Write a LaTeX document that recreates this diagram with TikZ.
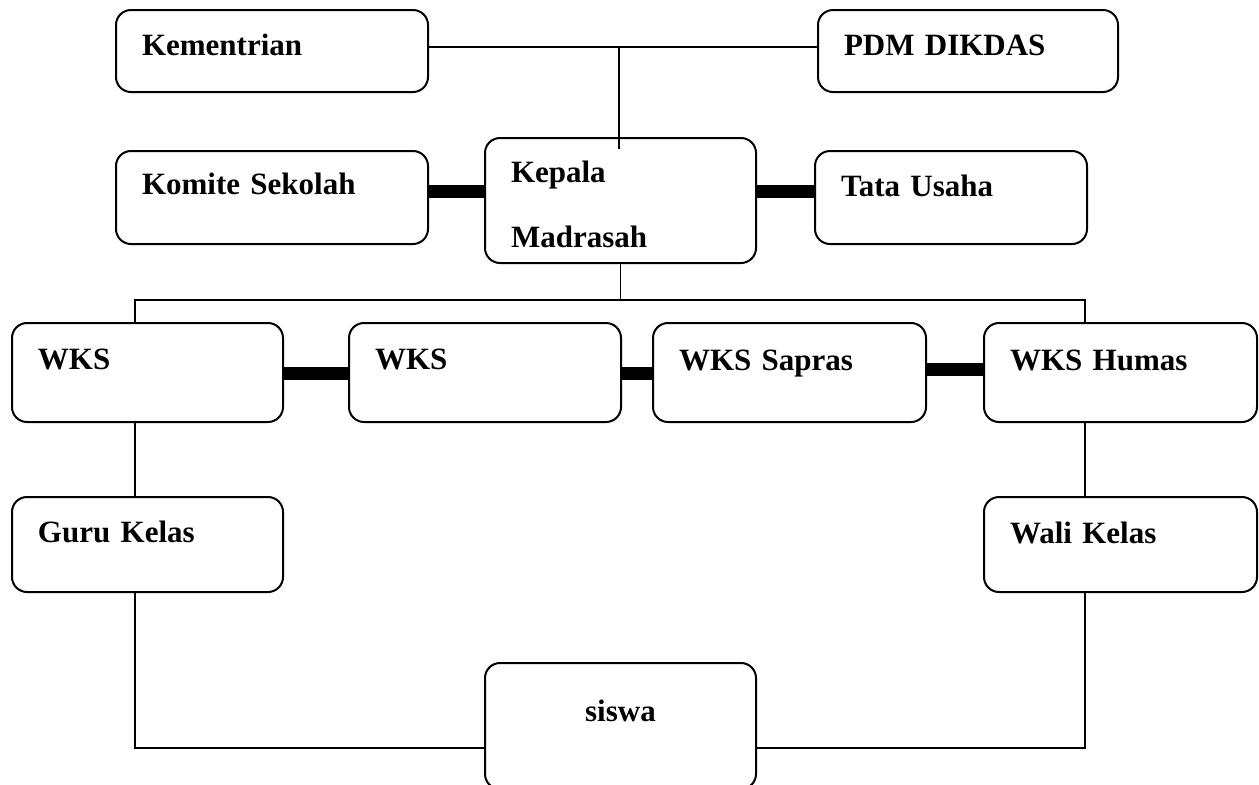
\documentclass[tikz,border=0pt]{standalone}
\usepackage{fontspec}
\setmainfont{Liberation Serif}

\begin{document}
\begin{tikzpicture}[x=0.5pt, y=-0.5pt,
  unit/.style={draw, rounded corners=7.5pt, line width=1pt, anchor=north west, inner xsep=13pt, inner ysep=0pt, align=left, font=\bfseries\fontsize{15.5}{18.6}\selectfont},
  link/.style={line width=0.8pt},
  bar/.style={line width=6.5pt}]
\useasboundingbox (0,0) rectangle (1259,784);

\node[unit, text width=130pt, text height=22.5pt, text depth=18.5pt] (kem) at (115,9) {Kementrian};
\node[unit, text width=124pt, text height=22.5pt, text depth=18.5pt] (pdm) at (817,9) {PDM DIKDAS};
\node[unit, text width=130pt, text height=21.5pt, text depth=25pt] (komite) at (115,150) {Komite Sekolah};
\node[unit, text width=109.5pt, text height=22pt, text depth=40.5pt] (kepala) at (484,137) {Kepala\\[14pt]Madrasah};
\node[unit, text width=110pt, text height=22.5pt, text depth=24pt] (tata) at (814,150) {Tata Usaha};

\node[unit, text width=109.5pt, text height=23pt, text depth=26.5pt] (wks) at (11,322) {WKS};
\node[unit, text width=110pt, text height=23pt, text depth=26.5pt] (wksdua) at (348,322) {WKS};
\node[unit, text width=110.5pt, text height=23.5pt, text depth=26pt] (sapras) at (652,322) {WKS Sapras};
\node[unit, text width=110.5pt, text height=23.5pt, text depth=26pt] (humas) at (983,322) {WKS Humas};

\node[unit, text width=109.5pt, text height=22.5pt, text depth=25pt] (guru) at (11,496) {Guru Kelas};
\node[unit, text width=110.5pt, text height=23pt, text depth=24.5pt] (wali) at (983,496) {Wali Kelas};
\node[unit, align=center, text width=109.5pt, text height=29pt, text depth=34pt] (siswa) at (484,662) {siswa};

\coordinate (top) at (619,47);
\coordinate (topend) at (619,149);
\coordinate (rowa) at (0,191);
\coordinate (rowb) at (0,373);
\coordinate (rowc) at (0,369);
\coordinate (busL) at (135,300);
\coordinate (busR) at (1085,300);
\coordinate (baseL) at (135,748);
\coordinate (baseR) at (1085,748);

\draw[link] (kem.east |- top) -- (pdm.west |- top);
\draw[link] (top) -- (topend);
\draw[bar] (komite.east |- rowa) -- (kepala.west |- rowa);
\draw[bar] (kepala.east |- rowa) -- (tata.west |- rowa);

\draw[link] (kepala.south) -- (kepala.south |- busL);
\draw[link] (busL |- wks.north) -- (busL) -- (busR) -- (busR |- humas.north);
\draw[bar] (wks.east |- rowb) -- (wksdua.west |- rowb);
\draw[bar] (wksdua.east |- rowb) -- (sapras.west |- rowb);
\draw[bar] (sapras.east |- rowc) -- (humas.west |- rowc);

\draw[link] (busL |- wks.south) -- (busL |- guru.north);
\draw[link] (busR |- humas.south) -- (busR |- wali.north);
\draw[link] (busL |- guru.south) -- (baseL) -- (siswa.west |- baseL);
\draw[link] (busR |- wali.south) -- (baseR) -- (siswa.east |- baseR);
\end{tikzpicture}
\end{document}
